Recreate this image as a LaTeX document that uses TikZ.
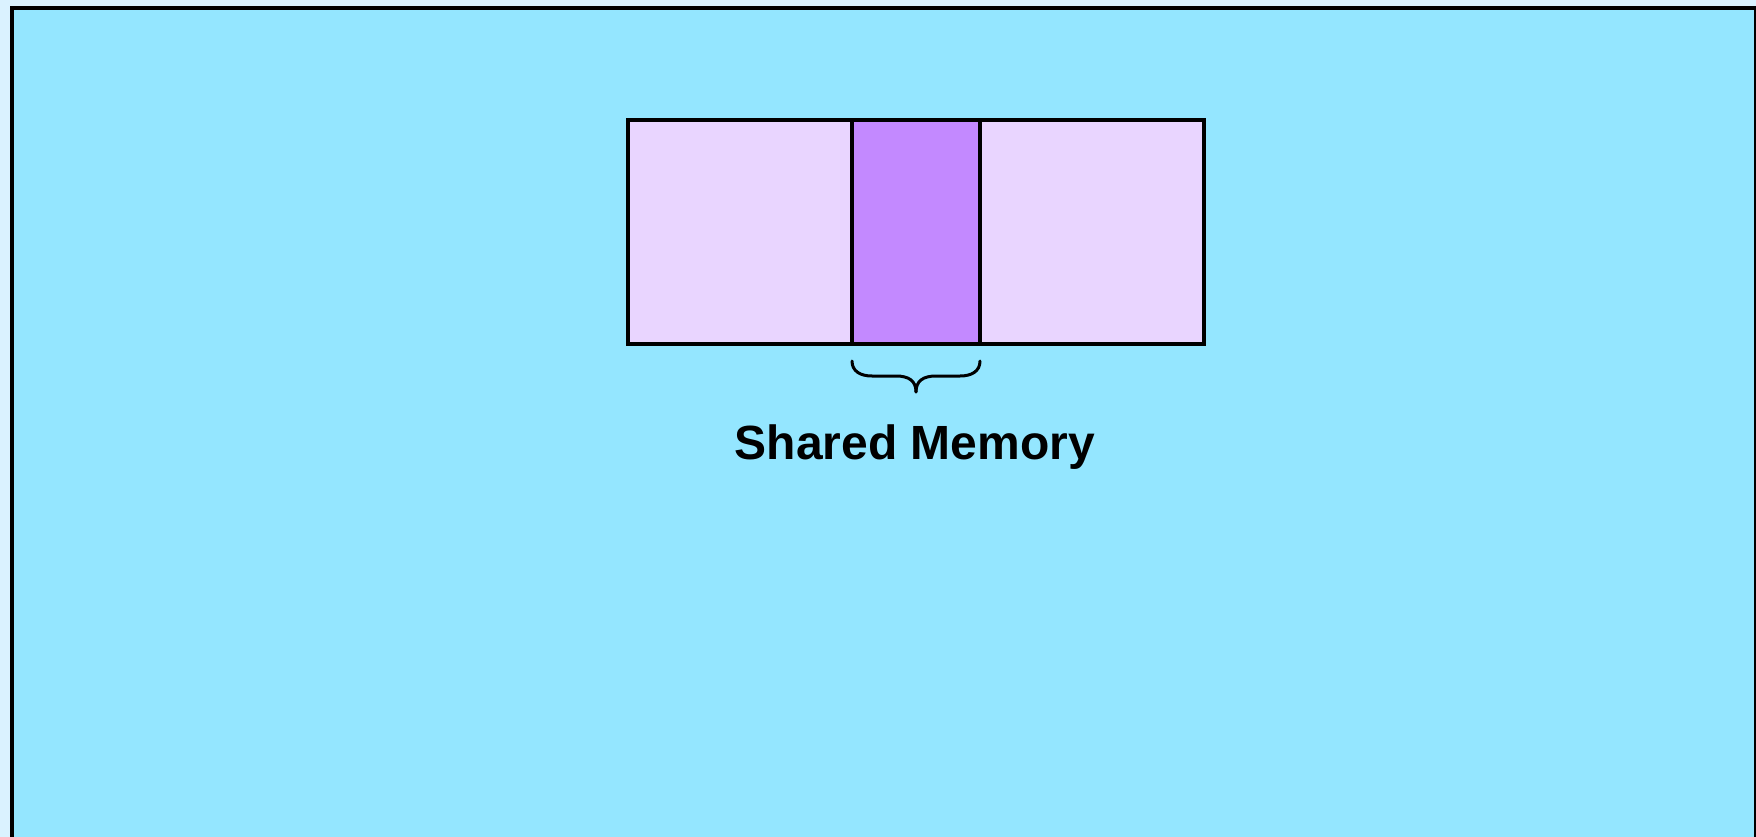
\documentclass[tikz,border=0pt]{standalone}
\usepackage{fontspec}
\setmainfont{Liberation Sans}
\begin{document}
\begin{tikzpicture}[x=1pt,y=-1pt,
  cellbox/.style={draw=black,line width=4pt,fill=#1},
  bracepath/.style={draw=black,line width=3pt,line cap=round,line join=round},
  caption/.style={font=\fontsize{48}{57}\selectfont\bfseries,anchor=base,inner sep=0pt}]
\definecolor{pagebg}{HTML}{DAF2FF}
\definecolor{panel}{HTML}{94E6FF}
\definecolor{lilac}{HTML}{E9D5FF}
\definecolor{violet}{HTML}{C389FF}
% page and panel
\fill[pagebg] (0,0) rectangle (1756,837);
\useasboundingbox (0,0) rectangle (1756,837);
\begin{scope}
\clip (0,0) rectangle (1756,837);
\draw[fill=panel,line width=4pt] (12,8) rectangle (1756,860);
\end{scope}
% memory cells
\node[cellbox=lilac,minimum width=224pt,minimum height=224pt,inner sep=0pt] (left) at (740,232) {};
\node[cellbox=violet,minimum width=128pt,minimum height=224pt,inner sep=0pt] (mid) at (916,232) {};
\node[cellbox=lilac,minimum width=224pt,minimum height=224pt,inner sep=0pt] (right) at (1092,232) {};
% brace under the shared cell
\coordinate (bl) at (852,361);
\coordinate (br) at (980,361);
\coordinate (tip) at (916,392);
\draw[bracepath] (bl) .. controls (852,371) and (860,376) .. (872,376)
  -- (896,376) .. controls (909,376) and (916,381) .. (tip);
\draw[bracepath] (br) .. controls (980,371) and (972,376) .. (960,376)
  -- (936,376) .. controls (923,376) and (916,381) .. (tip);
% caption
\node[caption] (label) at (915,459) {Shared Memory};
\end{tikzpicture}
\end{document}
